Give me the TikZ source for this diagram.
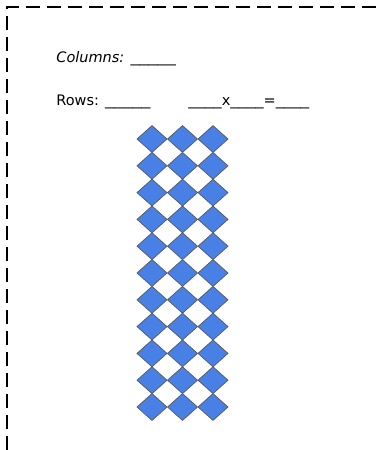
\documentclass[tikz,border=0pt]{standalone}
\usepackage{graphicx}
\usepackage{fontspec}
\setmainfont{DejaVu Sans}
\usetikzlibrary{calc}

\begin{document}
\begin{tikzpicture}[x=1pt,y=-1pt,line width=0.8pt]
\useasboundingbox (0,0) rectangle (378,450);
\definecolor{tileblue}{RGB}{72,128,230}
\foreach \i in {0,...,2}{
	\foreach \j in {0,...,10}{
		\coordinate(v\i\j) at ({152+30.5*\i},{139+26.8*\j});
	}
}
% Border
\draw [line width=1.5pt, dash pattern=on 14pt off 7pt] (7,450)--(7,7)--(378,7);

% Columns / Rows
\node [anchor=base west, inner sep=0, font=\fontsize{14.5}{16}\selectfont] (cols) at (56,62) {\textit{Columns:} \scalebox{1.25}[1]{\_\_\_\_\_}};
\node [anchor=base west, inner sep=0, font=\fontsize{14.5}{16}\selectfont] (rows) at (56,105) {Rows: \scalebox{1.25}[1]{\_\_\_\_\_}\hspace{38pt}\scalebox{1.15}[1]{\_\_\_\_}x\scalebox{1.15}[1]{\_\_\_\_}=\scalebox{1.15}[1]{\_\_\_\_}};

% Tiles
\foreach \i in {0,...,2}{
	\foreach \j in {0,...,10}{
		\filldraw [fill=tileblue, draw=gray!70!black, line width=0.7pt] ($(v\i\j)+(-15,0)$)--($(v\i\j)+(0,-13.4)$)--($(v\i\j)+(15,0)$)--($(v\i\j)+(0,13.4)$)--cycle;
	}
}
\end{tikzpicture}
\end{document}
